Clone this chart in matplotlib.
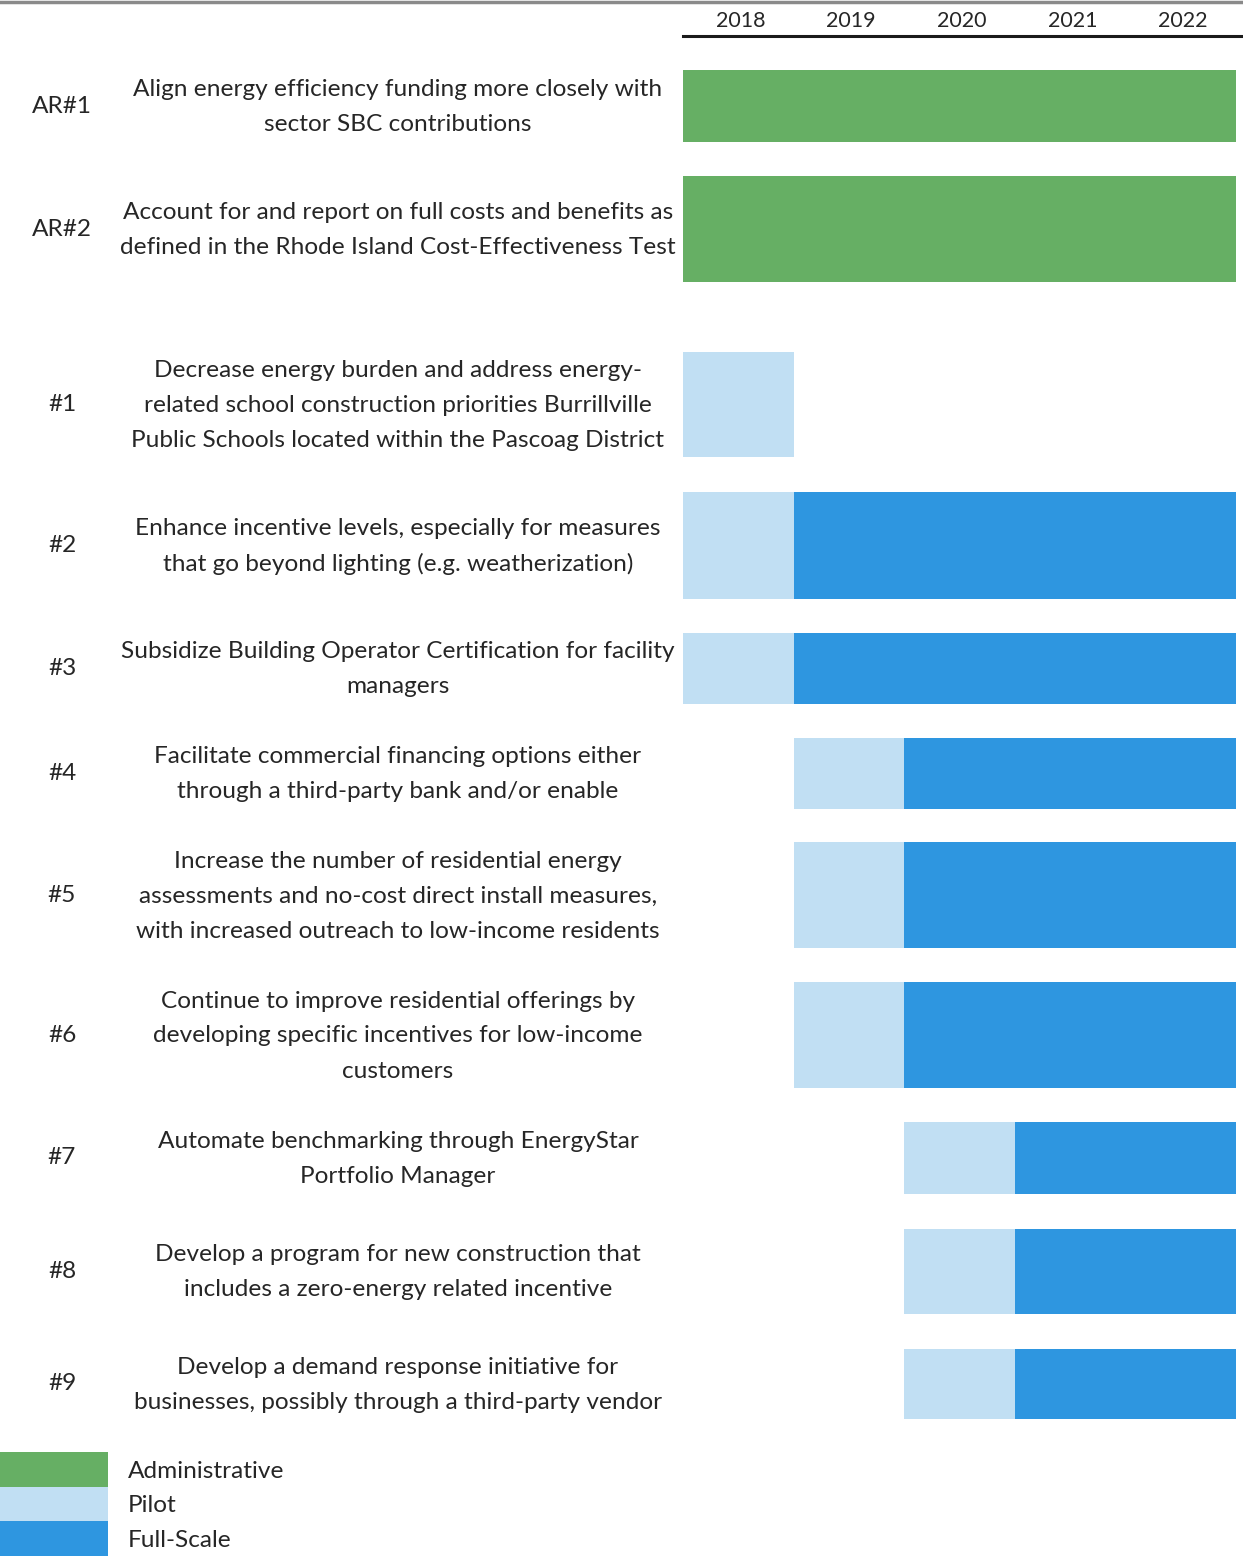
import numpy as np
import matplotlib
matplotlib.use("Agg")
import matplotlib.pyplot as plt
from matplotlib.patches import Rectangle

# Data
years = [2018, 2019, 2020, 2021, 2022]
row_ids = ["AR#1", "AR#2", "#1", "#2", "#3", "#4", "#5", "#6", "#7", "#8", "#9"]
descriptions = [
    ["Align energy efficiency funding more closely with", "sector SBC contributions"],
    ["Account for and report on full costs and benefits as",
     "defined in the Rhode Island Cost-Effectiveness Test"],
    ["Decrease energy burden and address energy-",
     "related school construction priorities Burrillville",
     "Public Schools located within the Pascoag District"],
    ["Enhance incentive levels, especially for measures",
     "that go beyond lighting (e.g. weatherization)"],
    ["Subsidize Building Operator Certification for facility", "managers"],
    ["Facilitate commercial financing options either",
     "through a third-party bank and/or enable"],
    ["Increase the number of residential energy",
     "assessments and no-cost direct install measures,",
     "with increased outreach to low-income residents"],
    ["Continue to improve residential offerings by",
     "developing specific incentives for low-income", "customers"],
    ["Automate benchmarking through EnergyStar", "Portfolio Manager"],
    ["Develop a program for new construction that",
     "includes a zero-energy related incentive"],
    ["Develop a demand response initiative for",
     "businesses, possibly through a third-party vendor"],
]
# phase year ranges (inclusive), None = phase not present
admin_start = [2018, 2018, None, None, None, None, None, None, None, None, None]
admin_end = [2022, 2022, None, None, None, None, None, None, None, None, None]
pilot_start = [None, None, 2018, 2018, 2018, 2019, 2019, 2019, 2020, 2020, 2020]
pilot_end = [None, None, 2018, 2018, 2018, 2019, 2019, 2019, 2020, 2020, 2020]
full_start = [None, None, None, 2019, 2019, 2020, 2020, 2020, 2021, 2021, 2021]
full_end = [None, None, None, 2022, 2022, 2022, 2022, 2022, 2022, 2022, 2022]
phases = ["Administrative", "Pilot", "Full-Scale"]

# Layout (pixels from top)
W, H = 1243, 1558
row_y = [106, 229, 404, 545, 668, 773, 895, 1035, 1158, 1271, 1384]
bar_h = [72, 106, 105, 107, 71, 71, 106, 106, 72, 85, 70]
line_gap = 35

colors = {"Administrative": "#66AF64", "Pilot": "#C1DFF3", "Full-Scale": "#2E96E0"}
text_color = "#262626"
font = ["Lato", "DejaVu Sans"]
fs = 17.6

fig = plt.figure(figsize=(W / 100, H / 100), dpi=100)
bg = fig.add_axes([0, 0, 1, 1])
bg.set_xlim(0, W)
bg.set_ylim(H, 0)
bg.axis("off")

ax = fig.add_axes([683 / W, 0, 553 / W, 1])
ax.set_xlim(2017.5, 2022.5)
ax.set_ylim(H, 0)
ax.axis("off")

# bars
for starts, ends, name in [(admin_start, admin_end, "Administrative"),
                           (pilot_start, pilot_end, "Pilot"),
                           (full_start, full_end, "Full-Scale")]:
    for i, (s, e) in enumerate(zip(starts, ends)):
        if s is None:
            continue
        ax.barh(row_y[i], e - s + 1, left=s - 0.5, height=bar_h[i],
                color=colors[name], linewidth=0)

# year header
for yr in years:
    ax.text(yr + 0.02, 21, str(yr), ha="center", va="center", fontsize=15.5,
            color=text_color, family=font)
ax.plot([2017.5, 2022.55], [36, 36], color="#1a1a1a", lw=2.2, clip_on=False)
bg.plot([0, W], [2, 2], color="#8a8a8a", lw=2.5)

# row labels
for i, rid in enumerate(row_ids):
    bg.text(62, row_y[i], rid, ha="center", va="center", fontsize=fs,
            color=text_color, family=font)
    lines = descriptions[i]
    n = len(lines)
    for k, line in enumerate(lines):
        yy = row_y[i] + (k - (n - 1) / 2) * line_gap + 1
        bg.text(398, yy, line, ha="center", va="center", fontsize=fs,
                color=text_color, family=font)

# legend
for k, name in enumerate(phases):
    top = 1452 + k * 34.7
    bg.add_patch(Rectangle((0, top), 108, 34.7, color=colors[name], lw=0))
    bg.text(128, top + 19, name, ha="left", va="center", fontsize=fs,
            color=text_color, family=font)

fig.savefig("out.png", dpi=100, facecolor="white")
